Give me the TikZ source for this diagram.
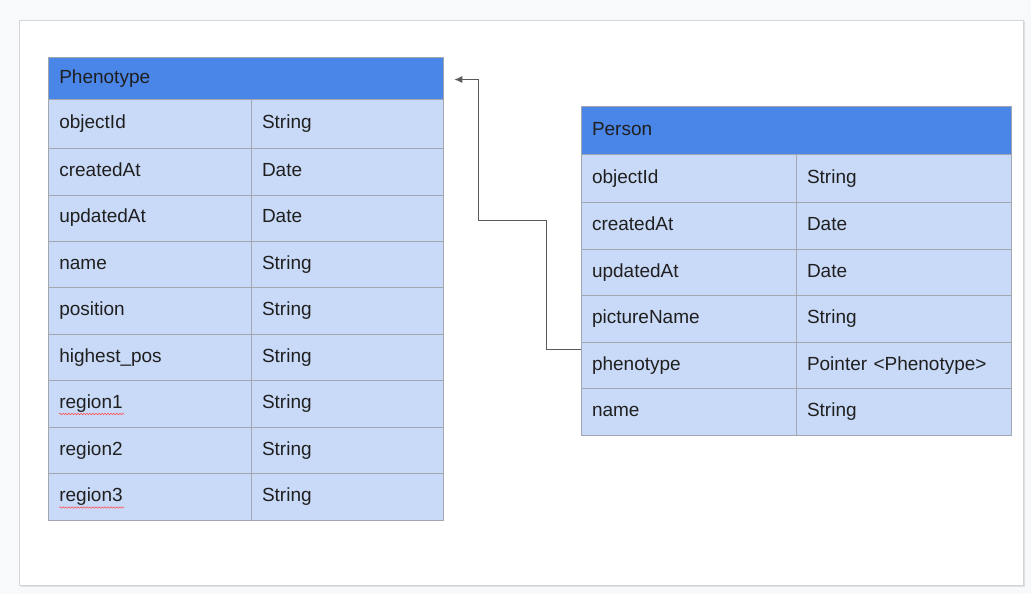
\documentclass[tikz,border=0pt]{standalone}
\usepackage{fontspec}
\setmainfont{Liberation Sans}
\usetikzlibrary{arrows.meta,decorations.pathmorphing}
\definecolor{bgc}{HTML}{F8F9FA}
\definecolor{cardc}{HTML}{D3D5D9}
\definecolor{hdrc}{HTML}{4A86E8}
\definecolor{rowc}{HTML}{C9DAF8}
\definecolor{gridc}{HTML}{A2A6AE}
\definecolor{txtc}{HTML}{1F1F1F}
\definecolor{arrc}{HTML}{595959}
\begin{document}
\begin{tikzpicture}[x=1pt,y=-1pt,
  cell/.style={draw=gridc, line width=1pt, fill=rowc, anchor=north west, inner sep=0pt, inner xsep=10.5pt,
    align=left, text=txtc, font=\fontsize{19}{22}\selectfont, text height=13.6pt, text depth=4.2pt},
  hdr/.style={cell, fill=hdrc},
  kph/.style={cell, text width=182pt},
  vph/.style={cell, text width=171pt},
  kpe/.style={cell, text width=194pt},
  vpe/.style={cell, text width=194pt},
  rowA/.style={minimum height=48.8pt},
  rowB/.style={minimum height=46.46pt},
  conn/.style={draw=arrc, line width=1.1pt, -{Latex[length=8pt,width=7pt]}},
  squig/.style={draw=red!70!white, line width=0.5pt, decorate, decoration={snake, amplitude=0.8pt, segment length=3pt}}
]
\useasboundingbox[fill=bgc] (0,0) rectangle (1031,594);
\fill[black!12] (20.5,21.5) rectangle (1024.5,587);
\draw[cardc, fill=white, line width=1pt] (19.5,20.5) rectangle (1023,585);

% Phenotype table
\node[hdr, text width=374pt, minimum height=42.6pt] (phHead) at (48.3,56.7) {Phenotype};
\node[kph, rowA] (ph1k) at (48.3,99.3) {objectId};
\node[vph, rowA] (ph1v) at (251,99.3) {String};
\node[kph, rowB] (ph2k) at (48.3,148.1) {createdAt};
\node[vph, rowB] (ph2v) at (251,148.1) {Date};
\node[kph, rowB] (ph3k) at (48.3,194.56) {updatedAt};
\node[vph, rowB] (ph3v) at (251,194.56) {Date};
\node[kph, rowB] (ph4k) at (48.3,241.02) {name};
\node[vph, rowB] (ph4v) at (251,241.02) {String};
\node[kph, rowB] (ph5k) at (48.3,287.48) {position};
\node[vph, rowB] (ph5v) at (251,287.48) {String};
\node[kph, rowB] (ph6k) at (48.3,333.94) {highest\_pos};
\node[vph, rowB] (ph6v) at (251,333.94) {String};
\node[kph, rowB] (ph7k) at (48.3,380.4) {region1};
\node[vph, rowB] (ph7v) at (251,380.4) {String};
\node[kph, rowB] (ph8k) at (48.3,426.86) {region2};
\node[vph, rowB] (ph8v) at (251,426.86) {String};
\node[kph, rowB] (ph9k) at (48.3,473.32) {region3};
\node[vph, rowB] (ph9v) at (251,473.32) {String};

% spell-check marks
\draw[squig] ([shift={(10.7,33.6)}]ph7k.north west) -- ++(65,0);
\draw[squig] ([shift={(10.7,34.2)}]ph9k.north west) -- ++(65,0);

% Person table
\node[hdr, text width=409pt, minimum height=48.3pt] (peHead) at (581,105.7) {Person};
\node[kpe, rowA] (pe1k) at (581,154) {objectId};
\node[vpe, rowA] (pe1v) at (796,154) {String};
\node[kpe, rowB] (pe2k) at (581,202.4) {createdAt};
\node[vpe, rowB] (pe2v) at (796,202.4) {Date};
\node[kpe, rowB] (pe3k) at (581,248.86) {updatedAt};
\node[vpe, rowB] (pe3v) at (796,248.86) {Date};
\node[kpe, rowB] (pe4k) at (581,295.32) {pictureName};
\node[vpe, rowB] (pe4v) at (796,295.32) {String};
\node[kpe, rowB] (pe5k) at (581,341.78) {phenotype};
\node[vpe, rowB] (pe5v) at (796,341.78) {Pointer <Phenotype>};
\node[kpe, rowB] (pe6k) at (581,388.24) {name};
\node[vpe, rowB] (pe6v) at (796,388.24) {String};

% connector
\coordinate (bend) at (478.7,220.3);
\draw[conn] ([yshift=15.8pt]pe5k.west) -- ++(-34.3,0) |- (bend) |- ([shift={(10,1)}]phHead.east);
\end{tikzpicture}
\end{document}
